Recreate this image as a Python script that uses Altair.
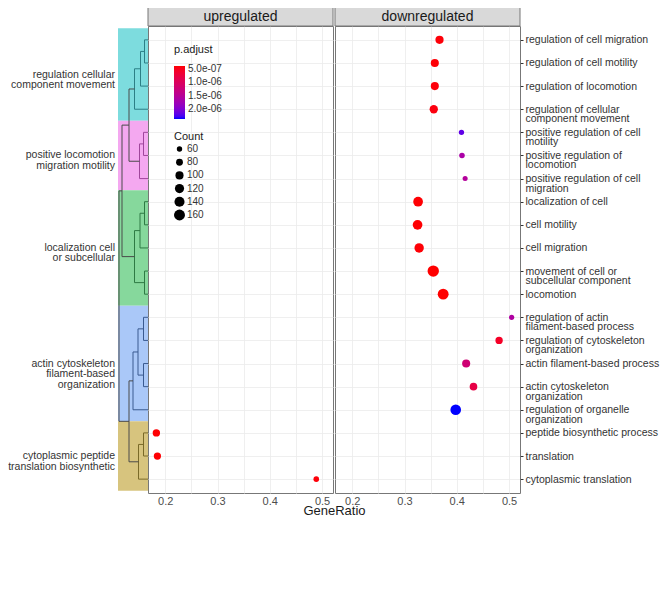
import json
import altair as alt
import pandas as pd

FONT = "Liberation Sans"

# ---------------- data ----------------
term_labels = [
    "regulation of cell migration",
    "regulation of cell motility",
    "regulation of locomotion",
    "regulation of cellular|component movement",
    "positive regulation of cell|motility",
    "positive regulation of|locomotion",
    "positive regulation of cell|migration",
    "localization of cell",
    "cell motility",
    "cell migration",
    "movement of cell or|subcellular component",
    "locomotion",
    "regulation of actin|filament-based process",
    "regulation of cytoskeleton|organization",
    "actin filament-based process",
    "actin cytoskeleton|organization",
    "regulation of organelle|organization",
    "peptide biosynthetic process",
    "translation",
    "cytoplasmic translation",
]

cluster_names = [
    "regulation cellular\ncomponent movement",
    "positive locomotion\nmigration motility",
    "localization cell\nor subcellular",
    "actin cytoskeleton\nfilament-based\norganization",
    "cytoplasmic peptide\ntranslation biosynthetic",
]
cluster_first = [1, 5, 8, 13, 18]
cluster_last = [4, 7, 12, 17, 20]
cluster_fill = ["#7DDCDE", "#F4A8F0", "#86D89C", "#AAC8F8", "#D7C47E"]
cluster_line = ["#2C7F86", "#A0469C", "#2E7A44", "#3A5A90", "#7A6A28"]

pt_row = [1, 2, 3, 4, 5, 6, 7, 8, 9, 10, 11, 12, 13, 14, 15, 16, 17, 18, 19, 20]
pt_group = ["downregulated"] * 17 + ["upregulated"] * 3
pt_ratio = [0.367, 0.358, 0.358, 0.356, 0.409, 0.410, 0.416, 0.326, 0.325, 0.328,
            0.355, 0.374, 0.505, 0.481, 0.418, 0.432, 0.398, 0.183, 0.185, 0.489]
pt_padj = [4.0e-7, 3.9e-7, 4.0e-7, 4.2e-7, 2.2e-6, 1.65e-6, 1.55e-6, 3.8e-7, 3.8e-7, 3.9e-7,
           3.7e-7, 3.7e-7, 1.6e-6, 5.5e-7, 1.2e-6, 8.0e-7, 2.4e-6, 3.8e-7, 3.8e-7, 4.0e-7]
pt_count = [102, 100, 100, 104, 60, 62, 56, 132, 132, 125,
            170, 158, 58, 88, 100, 92, 152, 88, 86, 62]

# dendrogram merges (children ids, merge height, cluster index; -1 = upper links)
merge_a = ["L1", "N1", "N2", "L5", "N4", "N3", "L8", "N7", "L11", "N8",
           "N6", "L13", "L15", "N12", "N14", "L18", "N16", "N15", "N11"]
merge_b = ["L2", "L3", "L4", "L6", "L7", "N5", "L9", "L10", "L12", "N9",
           "N10", "L14", "L16", "N13", "L17", "L19", "L20", "N17", "N18"]
merge_h = [3.5, 7.5, 13.5, 4.5, 8.5, 19, 3.5, 8, 3.5, 13.5,
           26, 4.5, 4.5, 10, 15, 4.5, 9.5, 19, 29]
merge_c = [0, 0, 0, 1, 1, -1, 2, 2, 2, 2, -1, 3, 3, 3, 3, 4, 4, -1, -1]

x_ticks = [0.2, 0.25, 0.3, 0.35, 0.4, 0.45, 0.5]
legend_p_values = [5e-7, 1e-6, 1.5e-6, 2e-6]
legend_count_values = [60, 80, 100, 120, 140, 160]

# ---------------- tables ----------------
pts_df = pd.DataFrame({"row": pt_row, "group": pt_group, "GeneRatio": pt_ratio,
                       "padj": pt_padj, "Count": pt_count})

ROW_LO, ROW_HI = 0.4, 20.6
strip_df = pd.DataFrame({
    "y1": [max(a - 0.5, ROW_LO) for a in cluster_first],
    "y2": [min(b + 0.5, ROW_HI) for b in cluster_last],
    "fill": cluster_fill,
})
lab_df = pd.DataFrame({
    "name": cluster_names,
    "mid": [(a + b) / 2 for a, b in zip(cluster_first, cluster_last)],
})

pos = {f"L{i}": (float(i), 0.0) for i in range(1, 21)}
segs = []
for k, (a, b, h, c) in enumerate(zip(merge_a, merge_b, merge_h, merge_c)):
    ya, ha = pos[a]
    yb, hb = pos[b]
    col = cluster_line[c] if c >= 0 else "#4A4A4A"
    segs.append({"x": ha, "x2": h, "y": ya, "y2": ya, "color": col})
    segs.append({"x": hb, "x2": h, "y": yb, "y2": yb, "color": col})
    segs.append({"x": h, "x2": h, "y": ya, "y2": yb, "color": col})
    pos[f"N{k + 1}"] = ((ya + yb) / 2, h)
seg_df = pd.DataFrame(segs)

# ---------------- layout ----------------
W = 185
H = 467
LEFT_W = 138
HEADER_H = 19

yscale = alt.Scale(domain=[ROW_LO, ROW_HI], reverse=True, nice=False, zero=False)
xscale = alt.Scale(domain=[0.167, 0.521], nice=False, zero=False)
# colour is keyed on the negated p.adjust so that the legend shows the smallest value on top
cscale = alt.Scale(domain=[-2.4e-6, -3.7e-7], range=["#0000FF", "#FF0000"], interpolate="lab")
sscale = alt.Scale(domain=[60, 160], range=[29, 120], zero=False)

strip = alt.Chart(strip_df).mark_rect().encode(
    x=alt.value(110), x2=alt.value(140),
    y=alt.Y("y1:Q", scale=yscale, axis=None), y2="y2:Q",
    fill=alt.Fill("fill:N", scale=None),
)
tree = alt.Chart(seg_df).mark_rule(strokeWidth=1).encode(
    x=alt.X("x:Q", scale=alt.Scale(domain=[0, 30], range=[140, 110]), axis=None),
    x2="x2:Q",
    y=alt.Y("y:Q", scale=yscale, axis=None), y2="y2:Q",
    color=alt.Color("color:N", scale=None),
)
labels = alt.Chart(lab_df).mark_text(
    align="right", baseline="middle", lineBreak="\n", lineHeight=10.5,
    fontSize=10.5, font=FONT, color="#333333",
).encode(x=alt.value(107), y=alt.Y("mid:Q", scale=yscale, axis=None), text="name:N")

left = alt.layer(strip, tree, labels).properties(
    width=LEFT_W, height=H, view=alt.ViewBackground(strokeOpacity=0)
)

label_expr_y = "split(" + json.dumps(term_labels) + "[datum.value - 1], '|')"
label_expr_x = "abs(datum.value * 10 - round(datum.value * 10)) < 0.01 ? format(datum.value, '.1f') : ''"


def make_panel(name, right_axis, show_title, show_legend):
    header_df = pd.DataFrame({"panel": [name]})
    header_rect = alt.Chart(header_df).mark_rect(
        fill="#D9D9D9", stroke="#777777", strokeWidth=1
    ).encode(x=alt.value(0), x2=alt.value(W), y=alt.value(-HEADER_H), y2=alt.value(0))
    header_text = alt.Chart(header_df).mark_text(
        fontSize=14, color="#1A1A1A", font=FONT, baseline="middle"
    ).encode(x=alt.value(W / 2), y=alt.value(-HEADER_H / 2), text="panel:N")

    xkw = dict(values=x_ticks, labelExpr=label_expr_x, grid=True, gridColor="#EBEBEB",
               gridWidth=0.8, ticks=False, domain=False, labelFontSize=11,
               labelColor="#4D4D4D", labelPadding=2)
    if show_title:
        xkw.update(title="GeneRatio", titleX=W + 1, titleY=17, titleAlign="center",
                   titleBaseline="middle", titleFontSize=13, titleFontWeight="normal",
                   titleColor="#1A1A1A")
    else:
        xkw.update(title=None)

    if right_axis:
        yaxis = alt.Axis(orient="right", values=pt_row, labelExpr=label_expr_y,
                         ticks=True, tickSize=3, tickColor="#333333", labelFontSize=10.5,
                         labelColor="#333333", labelPadding=2, labelLineHeight=9.5,
                         labelOverlap=False, labelFlush=False, domain=False, grid=True,
                         gridColor="#EBEBEB", gridWidth=0.8, title=None)
    else:
        yaxis = alt.Axis(values=pt_row, labels=False, ticks=False, domain=False,
                         grid=True, gridColor="#EBEBEB", gridWidth=0.8, title=None)

    if show_legend:
        cleg = alt.Legend(orient="none", legendX=26, legendY=18, direction="vertical",
                          title="p.adjust", values=[-v for v in legend_p_values],
                          labelExpr="replace(format(-datum.value, '.1e'), 'e-', 'e-0')",
                          gradientLength=53, gradientThickness=11, titlePadding=11,
                          labelOffset=3, titleFontSize=11, titleFontWeight="normal",
                          titleColor="#1A1A1A", labelFontSize=10, labelColor="#333333")
        sleg = alt.Legend(orient="none", legendX=26, legendY=105, title="Count",
                          values=legend_count_values, symbolType="circle",
                          symbolFillColor="#000000", symbolStrokeWidth=0,
                          symbolOpacity=1, clipHeight=12, rowPadding=1.2,
                          titlePadding=1, labelOffset=2, titleFontSize=11,
                          titleFontWeight="normal", titleColor="#1A1A1A",
                          labelFontSize=10, labelColor="#333333")
        color = alt.Color("negp:Q", scale=cscale, legend=cleg)
        size = alt.Size("Count:Q", scale=sscale, legend=sleg)
    else:
        color = alt.Color("negp:Q", scale=cscale, legend=None)
        size = alt.Size("Count:Q", scale=sscale, legend=None)

    points = alt.Chart(pts_df).transform_filter(
        alt.datum.group == name
    ).transform_calculate(
        negp="-datum.padj"
    ).mark_circle(opacity=1).encode(
        x=alt.X("GeneRatio:Q", scale=xscale, axis=alt.Axis(**xkw)),
        y=alt.Y("row:Q", scale=yscale, axis=yaxis),
        color=color,
        size=size,
    )
    return alt.layer(header_rect, header_text, points).properties(
        width=W, height=H, view=alt.ViewBackground(stroke="#777777", strokeWidth=1)
    )


up = make_panel("upregulated", right_axis=False, show_title=True, show_legend=True)
down = make_panel("downregulated", right_axis=True, show_title=False, show_legend=False)

chart = alt.hconcat(left, up, down, spacing=2, bounds="flush").resolve_scale(
    color="independent", size="independent", x="independent", y="independent"
).resolve_legend(
    color="independent", size="independent"
).properties(
    padding={"top": -2, "left": 0, "right": 0, "bottom": 0}
).configure(font=FONT).configure_view(stroke="#777777", strokeWidth=1)

chart.save("out.html", embed_options={"renderer": "svg", "actions": False})
